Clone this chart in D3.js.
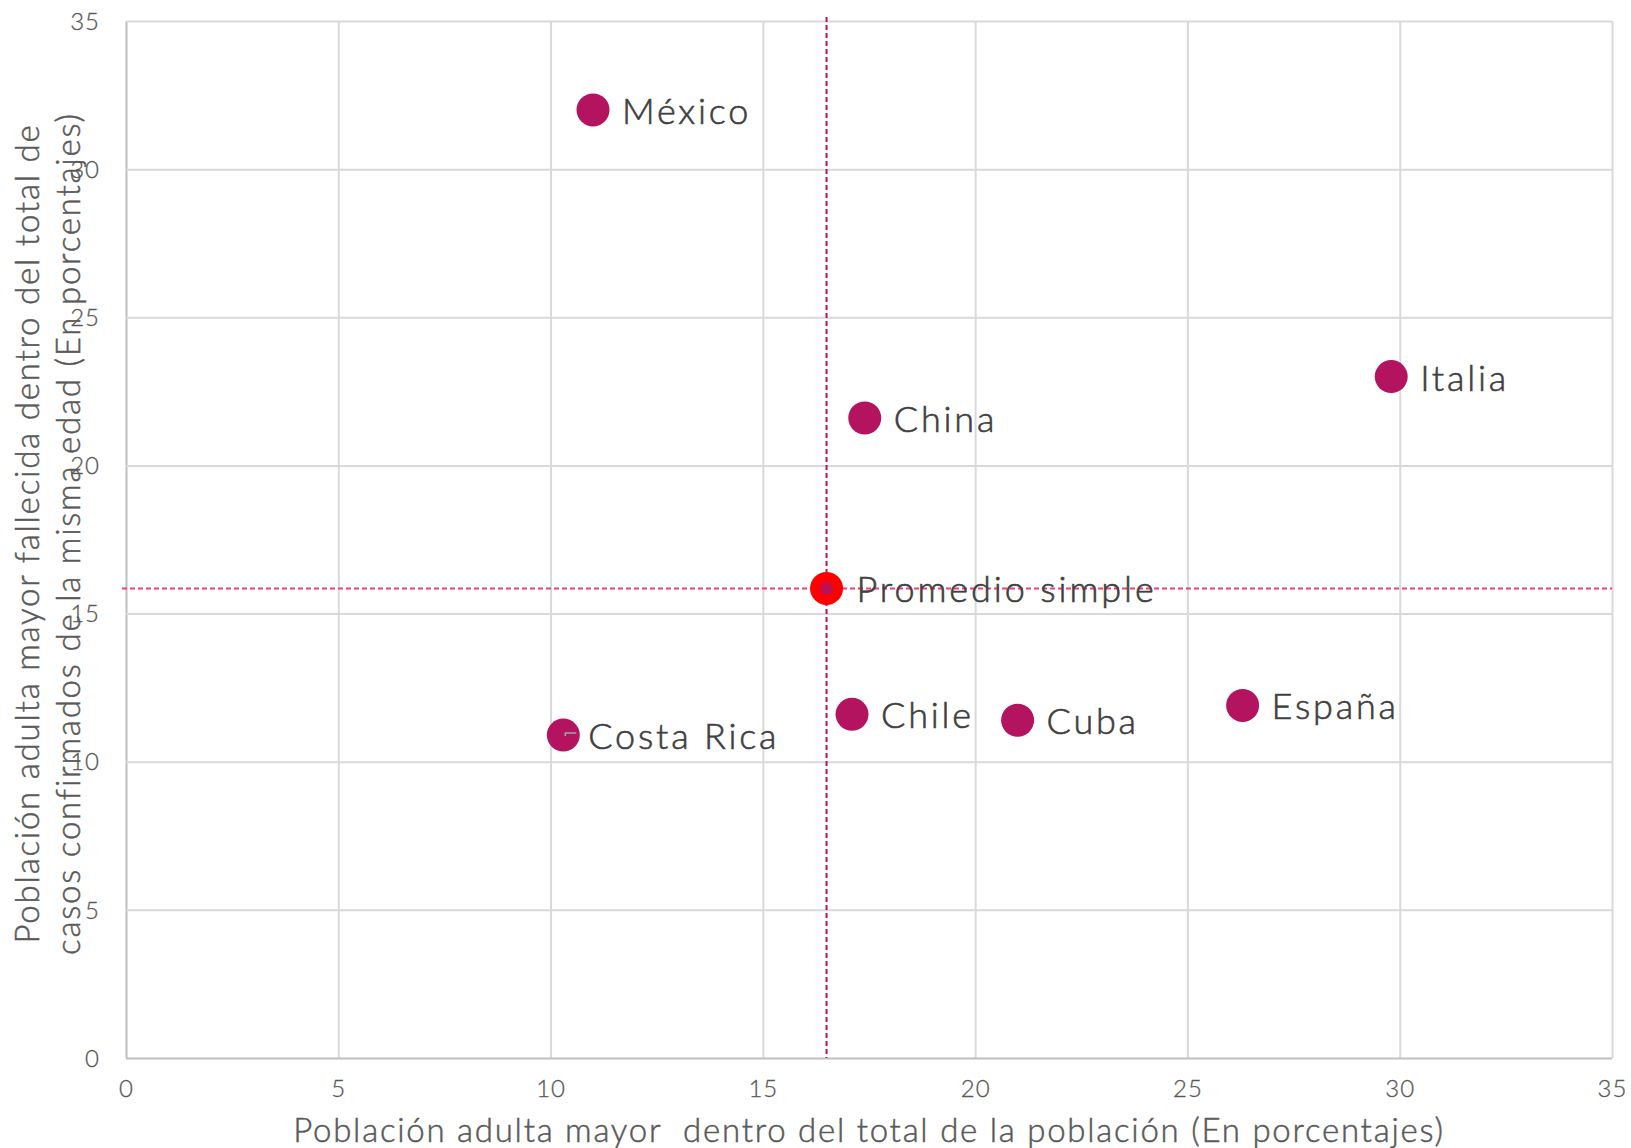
<!DOCTYPE html>
<html>
  <head>
    <meta charset="utf-8">
    <script src="https://d3js.org/d3.v7.min.js"></script>
    <style>
      body { margin: 0; background: #fff; }
      svg { display: block; }
      svg text { font-family: Lato, "Open Sans", sans-serif; font-weight: 300; }
    </style>
  </head>
  <body>
    <script>
      const width = 1631;
      const height = 1148;
      const margin = { top: 21, right: 19, bottom: 90, left: 126 };

      // data
      const countries = ['México', 'China', 'Italia', 'Chile', 'Cuba', 'España', 'Costa Rica'];
      const olderShare = [11.0, 17.4, 29.8, 17.1, 21.0, 26.3, 10.3];
      const olderDeaths = [32.0, 21.6, 23.0, 11.6, 11.4, 11.9, 10.9];
      const averageLabel = 'Promedio simple';
      const averageShare = 16.5;
      const averageDeaths = 15.85;
      const xTicks = [0, 5, 10, 15, 20, 25, 30, 35];
      const yTicks = [0, 5, 10, 15, 20, 25, 30, 35];
      const xTitle = 'Población adulta mayor  dentro del total de la población (En porcentajes)';
      const yTitle = ['Población adulta mayor fallecida dentro del total de', 'casos confirmados de la misma edad (En porcentajes)'];

      const pointColor = '#b3135f';
      const textColor = '#404040';
      const tickColor = '#595959';
      const radius = 16.5;

      const points = countries.map((c, i) => ({ label: c, x: olderShare[i], y: olderDeaths[i] }));

      const innerW = width - margin.left - margin.right;
      const innerH = height - margin.top - margin.bottom;

      const x = d3.scaleLinear().domain([0, 35]).range([0, innerW]);
      const y = d3.scaleLinear().domain([0, 35]).range([innerH, 0]);

      const svg = d3.select('body').append('svg')
        .attr('width', width)
        .attr('height', height);

      const g = svg.append('g')
        .attr('transform', `translate(${margin.left},${margin.top})`);

      // grid + axes
      const gx = g.append('g')
        .attr('transform', `translate(0,${innerH})`)
        .call(d3.axisBottom(x).tickValues(xTicks).tickSize(-innerH).tickPadding(22));
      const gy = g.append('g')
        .call(d3.axisLeft(y).tickValues(yTicks).tickSize(-innerW).tickPadding(26));

      [gx, gy].forEach((ax) => {
        ax.attr('font-family', null).attr('font-size', null);
        ax.select('.domain').remove();
        ax.selectAll('.tick line').attr('stroke', '#d9d9d9').attr('stroke-width', 2);
        ax.selectAll('.tick text')
          .attr('fill', tickColor)
          .attr('stroke', tickColor)
          .attr('stroke-width', 0.3)
          .style('font-size', '24px')
          .style('letter-spacing', '1px');
      });
      gx.selectAll('.tick text').attr('dy', '0.71em');
      gy.selectAll('.tick text').attr('dy', '0.34em');
      // slightly darker left/bottom axis lines
      gx.selectAll('.tick').filter((d) => d === 0).select('line').attr('stroke', '#bfbfbf');
      gy.selectAll('.tick').filter((d) => d === 0).select('line').attr('stroke', '#bfbfbf');

      // reference lines at the simple average
      g.append('line')
        .attr('x1', x(averageShare)).attr('x2', x(averageShare))
        .attr('y1', -4).attr('y2', innerH)
        .attr('stroke', '#b3135f')
        .attr('stroke-width', 2)
        .attr('stroke-dasharray', '5,3');
      g.append('line')
        .attr('x1', -4).attr('x2', innerW)
        .attr('y1', y(averageDeaths)).attr('y2', y(averageDeaths))
        .attr('stroke', '#e8427c')
        .attr('stroke-width', 2)
        .attr('stroke-dasharray', '5,3');

      // points
      g.selectAll('circle.pt')
        .data(points)
        .enter()
        .append('circle')
        .attr('class', 'pt')
        .attr('cx', (d) => x(d.x))
        .attr('cy', (d) => y(d.y))
        .attr('r', radius)
        .attr('fill', pointColor);

      // small leader line next to Costa Rica
      const cr = points.find((d) => d.label === 'Costa Rica');
      g.append('path')
        .attr('d', `M${x(cr.x) + 2},${y(cr.y) + 1}v-3h11`)
        .attr('fill', 'none')
        .attr('stroke', '#a6a6a6')
        .attr('stroke-width', 1.5);

      g.selectAll('text.lbl')
        .data(points)
        .enter()
        .append('text')
        .attr('class', 'lbl')
        .attr('x', (d) => x(d.x) + (d.label === 'Costa Rica' ? 25 : 29))
        .attr('y', (d) => y(d.y) + 14)
        .attr('fill', textColor)
        .attr('stroke', textColor)
        .attr('stroke-width', 0.6)
        .style('font-size', '36px')
        .style('letter-spacing', '2.8px')
        .text((d) => d.label);

      // average point
      g.append('circle')
        .attr('cx', x(averageShare))
        .attr('cy', y(averageDeaths))
        .attr('r', radius)
        .attr('fill', '#ff0000');
      g.append('circle')
        .attr('cx', x(averageShare))
        .attr('cy', y(averageDeaths))
        .attr('r', 6.5)
        .attr('fill', pointColor)
        .attr('opacity', 0.85);
      g.append('text')
        .attr('x', x(averageShare) + 30)
        .attr('y', y(averageDeaths) + 14)
        .attr('fill', textColor)
        .attr('stroke', textColor)
        .attr('stroke-width', 0.6)
        .style('font-size', '36px')
        .style('letter-spacing', '2.9px')
        .text(averageLabel);

      // axis titles
      svg.append('text')
        .attr('x', margin.left + innerW / 2)
        .attr('y', 1142)
        .attr('text-anchor', 'middle')
        .attr('fill', tickColor)
        .attr('stroke', tickColor)
        .attr('stroke-width', 0.5)
        .style('font-size', '33px')
        .style('letter-spacing', '1.75px')
        .style('white-space', 'pre')
        .text(xTitle);

      svg.selectAll('text.ytitle')
        .data(yTitle)
        .enter()
        .append('text')
        .attr('class', 'ytitle')
        .attr('transform', (d, i) => `translate(${39 + i * 41},${margin.top + innerH / 2 - 6}) rotate(-90)`)
        .attr('text-anchor', 'middle')
        .attr('fill', tickColor)
        .attr('stroke', tickColor)
        .attr('stroke-width', 0.5)
        .style('font-size', '33px')
        .style('letter-spacing', '1.8px')
        .text((d) => d);
    </script>
  </body>
</html>
